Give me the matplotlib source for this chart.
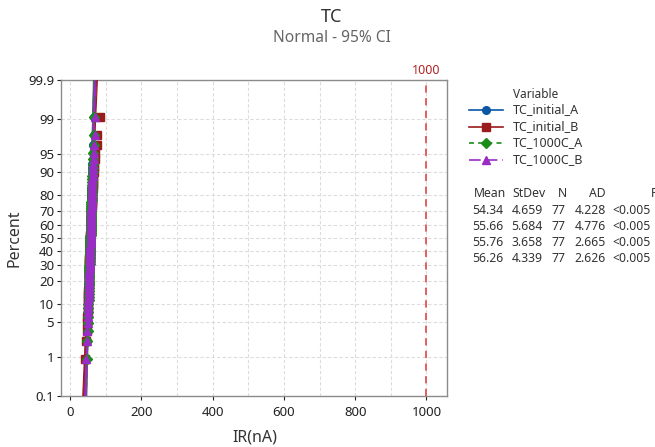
import matplotlib
matplotlib.use("Agg")
import matplotlib.pyplot as plt
from matplotlib.lines import Line2D
import numpy as np
from statistics import NormalDist

# ---------------- data ----------------
series_names = ["TC_initial_A", "TC_initial_B", "TC_1000C_A", "TC_1000C_B"]

tc_initial_a = [42, 46, 47, 48, 48, 49, 49, 50, 50, 50, 51, 51, 51, 51, 52, 52, 52, 52, 52, 52,
                53, 53, 53, 53, 53, 53, 53, 54, 54, 54, 54, 54, 54, 54, 54, 55, 55, 55, 55, 55,
                55, 55, 55, 56, 56, 56, 56, 56, 56, 56, 57, 57, 57, 57, 57, 57, 58, 58, 58, 58,
                58, 59, 59, 59, 59, 60, 60, 60, 61, 61, 62, 62, 63, 64, 65, 67, 68]
tc_initial_b = [40, 44, 46, 47, 48, 49, 49, 50, 50, 51, 51, 51, 52, 52, 52, 52, 53, 53, 53, 53,
                53, 54, 54, 54, 54, 54, 54, 55, 55, 55, 55, 55, 55, 55, 56, 56, 56, 56, 56, 56,
                56, 57, 57, 57, 57, 57, 57, 58, 58, 58, 58, 58, 59, 59, 59, 59, 60, 60, 60, 61,
                61, 61, 62, 62, 63, 63, 64, 64, 65, 66, 67, 68, 69, 70, 74, 76, 84]
tc_1000c_a = [46, 48, 49, 50, 50, 51, 51, 51, 52, 52, 52, 52, 53, 53, 53, 53, 53, 54, 54, 54,
              54, 54, 54, 55, 55, 55, 55, 55, 55, 55, 55, 56, 56, 56, 56, 56, 56, 56, 56, 56,
              57, 57, 57, 57, 57, 57, 57, 57, 58, 58, 58, 58, 58, 58, 59, 59, 59, 59, 59, 60,
              60, 60, 60, 61, 61, 61, 62, 62, 62, 63, 63, 64, 64, 65, 66, 67, 68]
tc_1000c_b = [45, 47, 48, 49, 50, 50, 51, 51, 51, 52, 52, 52, 53, 53, 53, 53, 54, 54, 54, 54,
              54, 55, 55, 55, 55, 55, 55, 56, 56, 56, 56, 56, 56, 56, 56, 57, 57, 57, 57, 57,
              57, 57, 57, 58, 58, 58, 58, 58, 58, 58, 59, 59, 59, 59, 59, 59, 60, 60, 60, 60,
              60, 61, 61, 61, 61, 62, 62, 62, 63, 63, 64, 65, 66, 67, 68, 69, 70]

means = [54.34, 55.66, 55.76, 56.26]
stdevs = [4.659, 5.684, 3.658, 4.339]
ns = [77, 77, 77, 77]
ads = [4.228, 4.776, 2.665, 2.626]
pvals = ["<0.005", "<0.005", "<0.005", "<0.005"]

pct_ticks = [0.1, 1, 5, 10, 20, 30, 40, 50, 60, 70, 80, 90, 95, 99, 99.9]
x_ticks = [0, 200, 400, 600, 800, 1000]
x_grid = [0, 100, 200, 300, 400, 500, 600, 700, 800, 900, 1000]
ref_value = 1000

# ---------------- style ----------------
colors = ["#0b57a4", "#9a1b1b", "#1a8c1a", "#9a2cc6"]
markers = ["o", "s", "D", "^"]
msizes = [5.5, 5.5, 4.8, 6.0]
lstyles = ["-", "-", (0, (3, 2.5)), (0, (7, 3))]

plt.rcParams['font.family'] = ['Noto Sans', 'DejaVu Sans']

W, H = 655, 447
fig = plt.figure(figsize=(W / 100, H / 100), dpi=100)

def fx(px):
    return px / W

def fy(py):
    return 1 - py / H

ax = fig.add_axes([fx(61), fy(396), fx(447) - fx(61), fy(80) - fy(396)])

nd = NormalDist()
z = lambda p: nd.inv_cdf(p / 100.0)
zlo, zhi = z(0.1), z(99.9)

data = [tc_initial_a, tc_initial_b, tc_1000c_a, tc_1000c_b]

# fit lines and CI bands
zz = np.linspace(zlo, zhi, 200)
for i in range(4):
    mu, sd, n = means[i], stdevs[i], ns[i]
    xfit = mu + zz * sd
    half = 1.96 * sd * np.sqrt((1 + zz ** 2 / 2) / n)
    ax.plot(xfit, zz, color=colors[i], lw=1.2, ls=lstyles[i], zorder=3)
    ax.plot(xfit - half, zz, color=colors[i], lw=0.8, zorder=3)
    ax.plot(xfit + half, zz, color=colors[i], lw=0.8, zorder=3)

# points
for i, vals in enumerate(data):
    v = np.sort(np.array(vals, dtype=float))
    n = len(v)
    ranks = np.arange(1, n + 1)
    p = (ranks - 0.3) / (n + 0.4) * 100
    zs = [z(pp) for pp in p]
    ax.plot(v, zs, ls="none", marker=markers[i], ms=msizes[i], color=colors[i],
            mec=colors[i], zorder=4 + i)

# reference line
ax.axvline(ref_value, color="#e05555", ls=(0, (4, 3)), lw=1.3, zorder=2)
ax.text(ref_value, zhi + 0.05, str(ref_value), color="#b22222", fontsize=9,
        ha="center", va="bottom", transform=ax.transData)

ax.set_xlim(-26, 1058)
ax.set_ylim(zlo, zhi)
ax.set_xticks(x_ticks)
ax.set_xticks(x_grid, minor=True)
ax.set_yticks([z(p) for p in pct_ticks])
ax.set_yticklabels([("%g" % p) for p in pct_ticks])
ax.grid(True, which="both", axis="x", color="#dcdcdc", ls=(0, (3, 2)), lw=0.8)
ax.grid(True, which="major", axis="y", color="#dcdcdc", ls=(0, (3, 2)), lw=0.8)
ax.tick_params(axis="both", which="major", labelsize=9.5, colors="#222222",
               length=3, width=0.8, pad=2)
ax.tick_params(axis="x", which="major", pad=4)
ax.tick_params(axis="x", which="minor", length=0)
for s in ax.spines.values():
    s.set_color("#8c8c8c")
    s.set_linewidth(1.0)
ax.set_axisbelow(True)

# axis labels
fig.text(fx(255), fy(437), "IR(nA)", fontsize=11.5, color="#333333",
         ha="center", va="center")
fig.text(fx(15), fy(238), "Percent", fontsize=11.5, color="#333333",
         ha="center", va="center", rotation=90)

# titles
fig.text(fx(332), fy(17), "TC", fontsize=13, color="#333333", ha="center", va="center")
fig.text(fx(332), fy(38), "Normal - 95% CI", fontsize=11.2, color="#666666",
         ha="center", va="center")

# legend (manual)
fig.text(fx(513), fy(94), "Variable", fontsize=8.5, color="#333333", ha="left", va="center")
leg_y = [110, 127, 143, 160]
for i in range(4):
    yy = fy(leg_y[i])
    ln = Line2D([fx(469), fx(503)], [yy, yy], color=colors[i], ls=lstyles[i], lw=1.2,
                transform=fig.transFigure)
    fig.add_artist(ln)
    mk = Line2D([fx(486)], [yy], color=colors[i], marker=markers[i], ms=msizes[i],
                ls="none", transform=fig.transFigure)
    fig.add_artist(mk)
    fig.text(fx(513), yy, series_names[i], fontsize=9, color="#333333",
             ha="left", va="center")

# stats table
hdr_y = fy(193)
tc = "#333333"
fs = 8.8
fig.text(fx(474), hdr_y, "Mean", fontsize=fs, color=tc, ha="left", va="center")
fig.text(fx(546), hdr_y, "StDev", fontsize=fs, color=tc, ha="right", va="center")
fig.text(fx(567), hdr_y, "N", fontsize=fs, color=tc, ha="right", va="center")
fig.text(fx(606), hdr_y, "AD", fontsize=fs, color=tc, ha="right", va="center")
fig.text(fx(651), hdr_y, "P", fontsize=fs, color=tc, ha="left", va="center")
row_y = [210, 226, 243, 259]
for i in range(4):
    yy = fy(row_y[i])
    fig.text(fx(503), yy, "%.2f" % means[i], fontsize=fs, color=tc, ha="right", va="center")
    fig.text(fx(543), yy, "%.3f" % stdevs[i], fontsize=fs, color=tc, ha="right", va="center")
    fig.text(fx(566), yy, "%d" % ns[i], fontsize=fs, color=tc, ha="right", va="center")
    fig.text(fx(606), yy, "%.3f" % ads[i], fontsize=fs, color=tc, ha="right", va="center")
    fig.text(fx(612), yy, pvals[i], fontsize=fs, color=tc, ha="left", va="center")

fig.savefig("out.png", dpi=100)
